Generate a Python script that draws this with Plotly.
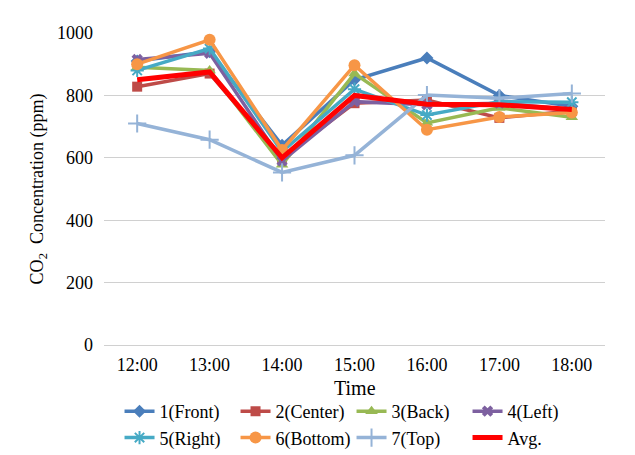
import plotly.graph_objects as go

times = ["12:00", "13:00", "14:00", "15:00", "16:00", "17:00", "18:00"]
front = [910, 940, 640, 850, 920, 800, 765]
center = [828, 870, 600, 775, 785, 728, 750]
back = [890, 880, 578, 870, 712, 760, 730]
left = [915, 935, 590, 780, 770, 775, 755]
right = [880, 950, 620, 820, 737, 780, 778]
bottom = [900, 978, 625, 897, 690, 731, 745]
top = [710, 658, 553, 608, 801, 791, 806]
avg = [850, 875, 600, 800, 772, 770, 755]

series = [
    ("1(Front)", front, "#4A7EBB", dict(symbol="diamond", size=10)),
    ("2(Center)", center, "#BE4B48", dict(symbol="square", size=10)),
    ("3(Back)", back, "#98B954", dict(symbol="triangle-up", size=11)),
    ("4(Left)", left, "#7D60A0", dict(symbol="x", size=10)),
    ("5(Right)", right, "#46AAC5", dict(symbol="asterisk-open", size=11, line=dict(width=2, color="#46AAC5"))),
    ("6(Bottom)", bottom, "#F79646", dict(symbol="circle", size=12)),
    ("7(Top)", top, "#95B3D7", dict(symbol="cross-thin-open", size=13, line=dict(width=2, color="#95B3D7"))),
]

fig = go.Figure()
for name, vals, color, mk in series:
    mk = dict(mk)
    mk.setdefault("color", color)
    fig.add_trace(go.Scatter(x=times, y=vals, name=name, mode="lines+markers",
                             line=dict(color=color, width=3.5), marker=mk))
fig.add_trace(go.Scatter(x=times, y=avg, name="Avg.", mode="lines",
                         line=dict(color="#FF0000", width=5)))

serif = "Liberation Serif, Times New Roman, serif"
fig.update_layout(
    width=635, height=455,
    margin=dict(l=96, r=38, t=25, b=118, autoexpand=False),
    paper_bgcolor="white", plot_bgcolor="white",
    font=dict(family=serif, size=18, color="black"),
    xaxis=dict(type="category", showgrid=False, showline=False, ticks="",
               ticklabelstandoff=7,
               tickfont=dict(family=serif, size=18)),
    yaxis=dict(range=[0, 1000], dtick=200, showgrid=True, gridcolor="#D0D0D0",
               gridwidth=1, zeroline=True, zerolinecolor="#D0D0D0", zerolinewidth=1,
               showline=False, ticks="", ticklabelstandoff=10,
               title=dict(text="CO<sub>2</sub>  Concentration (ppm)",
                          font=dict(family=serif, size=18), standoff=8),
               tickfont=dict(family=serif, size=18)),
    legend=dict(orientation="h", x=0.031, xanchor="left",
                yref="container", y=0.154, yanchor="top",
                entrywidth=71, itemwidth=30, font=dict(family=serif, size=18),
                tracegroupgap=0, traceorder="normal"),
    annotations=[dict(text="Time", xref="paper", yref="paper", x=0.5, y=-0.138,
                      xanchor="center", yanchor="middle", showarrow=False,
                      font=dict(family=serif, size=20))],
    showlegend=True,
)

fig.write_html("out.html")
